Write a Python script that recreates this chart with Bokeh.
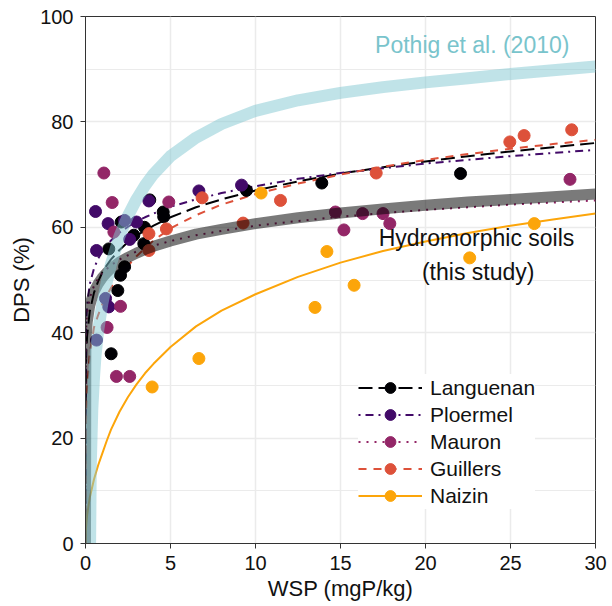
from bokeh.plotting import figure
from bokeh.models import Range1d, Legend, LegendItem, FixedTicker
from bokeh.embed import file_html
from bokeh.resources import INLINE
from bokeh.core.properties import value

# ---------------- data ----------------
SITES = ["Languenan", "Ploermel", "Mauron", "Guillers", "Naizin"]
COLORS = ["#000004", "#420a68", "#932667", "#dd513a", "#fca50a"]
DASHES = ["14 6", "2 5 8 5", "2 6", "8 7", "solid"]

languenan_x = [1.37, 1.51, 1.9, 2.06, 2.1, 2.3, 2.84, 3.43, 3.47, 3.78, 4.57, 4.6, 9.47, 13.9, 22.06]
languenan_y = [55.9, 36.0, 48.0, 50.9, 61.0, 52.5, 58.5, 56.9, 60.0, 65.2, 62.9, 62.0, 67.0, 68.4, 70.2]
ploermel_x = [0.59, 0.65, 0.65, 1.18, 1.33, 1.37, 2.3, 2.6, 3.0, 3.73, 6.67, 9.18]
ploermel_y = [63.0, 55.6, 38.6, 46.5, 60.7, 44.9, 61.3, 57.7, 61.0, 65.0, 66.9, 68.0]
mauron_x = [1.08, 1.27, 1.57, 1.67, 1.82, 2.06, 2.6, 4.9, 14.7, 15.2, 16.3, 17.5, 17.9, 28.5]
mauron_y = [70.3, 41.0, 64.7, 59.1, 31.7, 45.0, 31.7, 64.8, 62.9, 59.5, 62.6, 62.6, 60.7, 69.1]
guillers_x = [3.73, 3.73, 4.76, 6.86, 9.27, 11.47, 17.1, 24.96, 25.8, 28.6]
guillers_y = [58.8, 55.6, 59.7, 65.6, 60.8, 65.1, 70.3, 76.2, 77.4, 78.5]
naizin_x = [3.92, 6.67, 10.33, 13.5, 14.2, 15.8, 22.6, 26.4]
naizin_y = [29.7, 35.1, 66.5, 44.8, 55.4, 49.0, 54.2, 60.7]

# fitted curves at these WSP values
curve_x = [0, 0.02, 0.05, 0.1, 0.25, 0.5, 0.75, 1, 1.25, 1.5, 2, 2.5, 3, 3.5, 4, 5,
           6.5, 8, 10, 12.5, 15, 17.5, 20, 22.5, 25, 27.5, 30]
languenan_fit = [0, 32.9, 36.6, 39.6, 44.0, 47.6, 49.8, 51.5, 52.8, 53.9, 55.7, 57.2, 58.4, 59.4,
                 60.3, 61.9, 63.8, 65.3, 67.0, 68.7, 70.2, 71.4, 72.5, 73.5, 74.4, 75.2, 76.0]
ploermel_fit = [0, 39.5, 42.7, 45.4, 49.2, 52.2, 54.1, 55.5, 56.6, 57.5, 59.0, 60.1, 61.1, 61.9,
                62.6, 63.9, 65.3, 66.5, 67.8, 69.2, 70.3, 71.2, 72.1, 72.8, 73.5, 74.1, 74.7]
mauron_fit = [0, 39.0, 41.6, 43.7, 46.6, 48.9, 50.3, 51.3, 52.1, 52.8, 53.9, 54.7, 55.4, 56.0,
              56.5, 57.4, 58.5, 59.3, 60.3, 61.2, 62.0, 62.7, 63.3, 63.8, 64.3, 64.7, 65.1]
guillers_fit = [0, 22.0, 26.0, 30.0, 36.0, 41.0, 43.4, 45.5, 47.1, 48.5, 50.8, 52.7, 54.5, 56.0,
                57.5, 59.8, 62.3, 64.3, 66.3, 68.3, 70.0, 71.5, 72.8, 73.9, 74.9, 75.8, 76.6]
naizin_fit = [0, 2.5, 3.8, 5.5, 8.7, 12.2, 14.9, 17.2, 19.5, 21.6, 25.0, 27.8, 30.2, 32.3,
              34.1, 37.3, 41.2, 44.2, 47.3, 50.6, 53.3, 55.5, 57.3, 58.9, 60.3, 61.5, 62.6]
hydromorphic_fit = [0, 36.9, 39.7, 42.0, 45.2, 47.8, 49.3, 50.5, 51.4, 52.2, 53.4, 54.3, 55.1, 55.8,
                    56.4, 57.4, 58.7, 59.6, 60.7, 61.8, 62.7, 63.5, 64.2, 64.8, 65.3, 65.8, 66.3]
pothig_x = [0.27, 0.31, 0.4, 0.5, 0.59, 0.75, 1, 1.25, 1.5, 2, 2.5, 3, 3.5, 4, 5,
            6.5, 8, 10, 12.5, 15, 17.5, 20, 22.5, 25, 27.5, 30]
pothig_y = [0, 15.0, 25.5, 31.5, 35.7, 40.5, 45.7, 49.6, 53.0, 58.3, 62.2, 65.3, 67.9, 70.1, 73.5,
            77.0, 79.6, 82.1, 84.1, 85.5, 86.6, 87.5, 88.3, 89.1, 89.8, 90.5]

X_TICKS = [0, 5, 10, 15, 20, 25, 30]
Y_TICKS = [0, 20, 40, 60, 80, 100]
Y_MINOR = [10, 30, 50, 70, 90]

POTHIG_LABEL = "Pothig et al. (2010)"
STUDY_LABEL = ["Hydromorphic soils", "(this study)"]
X_TITLE = "WSP (mgP/kg)"
Y_TITLE = "DPS (%)"

points_x = [languenan_x, ploermel_x, mauron_x, guillers_x, naizin_x]
points_y = [languenan_y, ploermel_y, mauron_y, guillers_y, naizin_y]
fits = [languenan_fit, ploermel_fit, mauron_fit, guillers_fit, naizin_fit]

FONT = "Liberation Sans"

# ---------------- figure ----------------
p = figure(frame_width=510, frame_height=527, output_backend="svg", toolbar_location=None,
           x_range=Range1d(0, 30), y_range=Range1d(0, 100),
           min_border_left=85, min_border_right=12, min_border_top=16, min_border_bottom=62)
p.background_fill_color = "white"
p.border_fill_color = "white"
p.outline_line_color = "#333333"
p.outline_line_width = 1

p.xaxis.ticker = FixedTicker(ticks=X_TICKS)
p.yaxis.ticker = FixedTicker(ticks=Y_TICKS, minor_ticks=Y_MINOR)
p.xgrid.ticker = FixedTicker(ticks=X_TICKS)
p.ygrid.ticker = FixedTicker(ticks=Y_TICKS, minor_ticks=Y_MINOR)
for g in (p.xgrid, p.ygrid):
    g.grid_line_color = "#ebebeb"
    g.grid_line_width = 1.5
p.ygrid.minor_grid_line_color = "#ebebeb"
p.ygrid.minor_grid_line_width = 1.2

for ax in (p.xaxis, p.yaxis):
    ax.axis_line_color = "#333333"
    ax.major_tick_line_color = "#333333"
    ax.major_tick_out = 5
    ax.major_tick_in = 0
    ax.minor_tick_line_color = None
    ax.major_label_text_font = FONT
    ax.major_label_text_font_size = "20px"
    ax.major_label_text_color = "#111111"
    ax.major_label_standoff = 7
    ax.axis_label_text_font = FONT
    ax.axis_label_text_font_size = "22px"
    ax.axis_label_text_font_style = "normal"
    ax.axis_label_text_color = "#111111"
    ax.axis_label_standoff = 3
p.xaxis.axis_label = X_TITLE
p.yaxis.axis_label = Y_TITLE

items = []
line_renderers = []
for name, col, dash, fy in zip(SITES, COLORS, DASHES, fits):
    lr = p.line(curve_x, fy, line_color=col, line_width=2, line_dash=dash, line_join="round")
    line_renderers.append(lr)

for name, col, px, py, lr in zip(SITES, COLORS, points_x, points_y, line_renderers):
    sr = p.scatter(px, py, marker="circle", size=12, fill_color=col, line_color=col)
    items.append(LegendItem(label=name, renderers=[lr, sr]))

# thick summary curves
p.line(curve_x, hydromorphic_fit, line_color="black", line_alpha=0.52, line_width=11, line_join="round")
p.line(pothig_x, pothig_y, line_color="#82c8d2", line_alpha=0.5, line_width=12, line_join="round")

# annotations
p.text(x=[22.75], y=[94.5], text=[POTHIG_LABEL], text_color="#79c4cc",
       text_font=value(FONT), text_font_size="23px", text_align="center", text_baseline="middle")
p.text(x=[23.0, 23.1], y=[57.9, 51.5], text=STUDY_LABEL, text_color="#111111",
       text_font=value(FONT), text_font_size="23px", text_align="center", text_baseline="middle")

legend = Legend(items=items, location=(273, 34), glyph_width=64, glyph_height=27,
                label_height=27, spacing=0, padding=14, label_standoff=8,
                label_text_font=FONT, label_text_font_size="21px", label_text_color="#111111",
                border_line_color=None, background_fill_color="white", background_fill_alpha=1.0,
                margin=0)
p.add_layout(legend)

open("out.html", "w").write(file_html(p, INLINE))
